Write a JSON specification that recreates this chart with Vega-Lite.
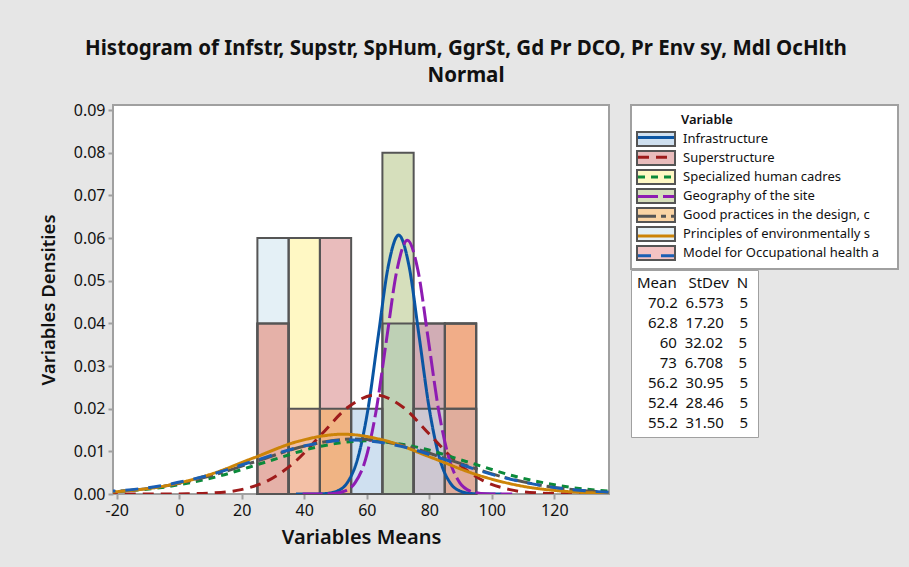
{
  "$schema": "https://vega.github.io/schema/vega-lite/v6.json",
  "width": 496,
  "height": 389,
  "autosize": {"type": "none"},
  "padding": {"left": 113, "top": 105, "right": 300, "bottom": 73},
  "background": "#e6e6e6",
  "title": {
    "text": ["Histogram of Infstr, Supstr, SpHum, GgrSt, Gd Pr DCO, Pr Env sy, Mdl OcHlth", "Normal"],
    "anchor": "middle", "dx": 105, "font": "Noto Sans", "fontSize": 20.5, "fontWeight": "bold",
    "color": "#111111", "lineHeight": 27, "offset": 16
  },
  "config": {
    "view": {"stroke": "#a0a0a0", "strokeWidth": 2, "fill": "white"},
    "font": "Noto Sans",
    "axis": {
      "domain": false, "grid": false, "tickColor": "#a0a0a0", "tickWidth": 2, "tickSize": 5,
      "labelFont": "Noto Sans", "labelFontSize": 16, "labelColor": "#111111",
      "titleFont": "Noto Sans", "titleFontWeight": 600, "titleColor": "#111111"
    }
  },
  "datasets": {
    "bars": [
      {"v": "Infrastructure", "b0": 55, "b1": 65, "dens": 0.02},
      {"v": "Infrastructure", "b0": 65, "b1": 75, "dens": 0.04},
      {"v": "Infrastructure", "b0": 75, "b1": 85, "dens": 0.04},
      {"v": "Superstructure", "b0": 45, "b1": 55, "dens": 0.06},
      {"v": "Superstructure", "b0": 75, "b1": 85, "dens": 0.04},
      {"v": "Specialized human cadres", "b0": 35, "b1": 45, "dens": 0.06},
      {"v": "Specialized human cadres", "b0": 85, "b1": 95, "dens": 0.04},
      {"v": "Geography of the site", "b0": 65, "b1": 75, "dens": 0.08},
      {"v": "Geography of the site", "b0": 85, "b1": 95, "dens": 0.02},
      {"v": "Good practices in the design, c", "b0": 25, "b1": 35, "dens": 0.04},
      {"v": "Good practices in the design, c", "b0": 45, "b1": 55, "dens": 0.02},
      {"v": "Good practices in the design, c", "b0": 85, "b1": 95, "dens": 0.04},
      {"v": "Principles of environmentally s", "b0": 25, "b1": 35, "dens": 0.06},
      {"v": "Principles of environmentally s", "b0": 75, "b1": 85, "dens": 0.02},
      {"v": "Principles of environmentally s", "b0": 85, "b1": 95, "dens": 0.02},
      {"v": "Model for Occupational health a", "b0": 25, "b1": 35, "dens": 0.04},
      {"v": "Model for Occupational health a", "b0": 35, "b1": 45, "dens": 0.02},
      {"v": "Model for Occupational health a", "b0": 85, "b1": 95, "dens": 0.04}
    ],
    "curves": [
      {"v": "Infrastructure", "x": 37.335, "d": 0.0000002},
      {"v": "Infrastructure", "x": 43.908, "d": 0.0000204},
      {"v": "Infrastructure", "x": 47.195, "d": 0.000133},
      {"v": "Infrastructure", "x": 50.481, "d": 0.000674},
      {"v": "Infrastructure", "x": 53.768, "d": 0.002667},
      {"v": "Infrastructure", "x": 57.054, "d": 0.008214},
      {"v": "Infrastructure", "x": 60.341, "d": 0.019705},
      {"v": "Infrastructure", "x": 63.627, "d": 0.036813},
      {"v": "Infrastructure", "x": 66.914, "d": 0.053563},
      {"v": "Infrastructure", "x": 70.2, "d": 0.060694},
      {"v": "Infrastructure", "x": 73.487, "d": 0.053563},
      {"v": "Infrastructure", "x": 76.773, "d": 0.036813},
      {"v": "Infrastructure", "x": 80.06, "d": 0.019705},
      {"v": "Infrastructure", "x": 83.346, "d": 0.008214},
      {"v": "Infrastructure", "x": 86.633, "d": 0.002667},
      {"v": "Infrastructure", "x": 89.919, "d": 0.000674},
      {"v": "Infrastructure", "x": 93.206, "d": 0.000133},
      {"v": "Infrastructure", "x": 96.492, "d": 0.0000204},
      {"v": "Infrastructure", "x": 103.065, "d": 0.0000002},
      {"v": "Superstructure", "x": -23.2, "d": 0.0000001},
      {"v": "Superstructure", "x": -6.0, "d": 0.0000078},
      {"v": "Superstructure", "x": 2.6, "d": 0.0000508},
      {"v": "Superstructure", "x": 11.2, "d": 0.000258},
      {"v": "Superstructure", "x": 19.8, "d": 0.001019},
      {"v": "Superstructure", "x": 28.4, "d": 0.003139},
      {"v": "Superstructure", "x": 37.0, "d": 0.00753},
      {"v": "Superstructure", "x": 45.6, "d": 0.014068},
      {"v": "Superstructure", "x": 54.2, "d": 0.020469},
      {"v": "Superstructure", "x": 62.8, "d": 0.023194},
      {"v": "Superstructure", "x": 71.4, "d": 0.020469},
      {"v": "Superstructure", "x": 80.0, "d": 0.014068},
      {"v": "Superstructure", "x": 88.6, "d": 0.00753},
      {"v": "Superstructure", "x": 97.2, "d": 0.003139},
      {"v": "Superstructure", "x": 105.8, "d": 0.001019},
      {"v": "Superstructure", "x": 114.4, "d": 0.000258},
      {"v": "Superstructure", "x": 123.0, "d": 0.0000508},
      {"v": "Superstructure", "x": 131.6, "d": 0.0000078},
      {"v": "Superstructure", "x": 148.8, "d": 0.0000001},
      {"v": "Specialized human cadres", "x": -36.06, "d": 0.000138},
      {"v": "Specialized human cadres", "x": -20.05, "d": 0.000547},
      {"v": "Specialized human cadres", "x": -4.04, "d": 0.001686},
      {"v": "Specialized human cadres", "x": 11.97, "d": 0.004045},
      {"v": "Specialized human cadres", "x": 27.98, "d": 0.007557},
      {"v": "Specialized human cadres", "x": 43.99, "d": 0.010995},
      {"v": "Specialized human cadres", "x": 60.0, "d": 0.012459},
      {"v": "Specialized human cadres", "x": 76.01, "d": 0.010995},
      {"v": "Specialized human cadres", "x": 92.02, "d": 0.007557},
      {"v": "Specialized human cadres", "x": 108.03, "d": 0.004045},
      {"v": "Specialized human cadres", "x": 124.04, "d": 0.001686},
      {"v": "Specialized human cadres", "x": 140.05, "d": 0.000547},
      {"v": "Specialized human cadres", "x": 156.06, "d": 0.000138},
      {"v": "Geography of the site", "x": 39.46, "d": 0.0000002},
      {"v": "Geography of the site", "x": 46.168, "d": 0.00002},
      {"v": "Geography of the site", "x": 49.522, "d": 0.00013},
      {"v": "Geography of the site", "x": 52.876, "d": 0.000661},
      {"v": "Geography of the site", "x": 56.23, "d": 0.002613},
      {"v": "Geography of the site", "x": 59.584, "d": 0.008049},
      {"v": "Geography of the site", "x": 62.938, "d": 0.019308},
      {"v": "Geography of the site", "x": 66.292, "d": 0.036072},
      {"v": "Geography of the site", "x": 69.646, "d": 0.052484},
      {"v": "Geography of the site", "x": 73.0, "d": 0.059473},
      {"v": "Geography of the site", "x": 76.354, "d": 0.052484},
      {"v": "Geography of the site", "x": 79.708, "d": 0.036072},
      {"v": "Geography of the site", "x": 83.062, "d": 0.019308},
      {"v": "Geography of the site", "x": 86.416, "d": 0.008049},
      {"v": "Geography of the site", "x": 89.77, "d": 0.002613},
      {"v": "Geography of the site", "x": 93.124, "d": 0.000661},
      {"v": "Geography of the site", "x": 96.478, "d": 0.00013},
      {"v": "Geography of the site", "x": 99.832, "d": 0.00002},
      {"v": "Geography of the site", "x": 106.54, "d": 0.0000002},
      {"v": "Good practices in the design, c", "x": -36.65, "d": 0.000143},
      {"v": "Good practices in the design, c", "x": -21.175, "d": 0.000566},
      {"v": "Good practices in the design, c", "x": -5.7, "d": 0.001744},
      {"v": "Good practices in the design, c", "x": 9.775, "d": 0.004185},
      {"v": "Good practices in the design, c", "x": 25.25, "d": 0.007818},
      {"v": "Good practices in the design, c", "x": 40.725, "d": 0.011375},
      {"v": "Good practices in the design, c", "x": 56.2, "d": 0.01289},
      {"v": "Good practices in the design, c", "x": 71.675, "d": 0.011375},
      {"v": "Good practices in the design, c", "x": 87.15, "d": 0.007818},
      {"v": "Good practices in the design, c", "x": 102.625, "d": 0.004185},
      {"v": "Good practices in the design, c", "x": 118.1, "d": 0.001744},
      {"v": "Good practices in the design, c", "x": 133.575, "d": 0.000566},
      {"v": "Good practices in the design, c", "x": 149.05, "d": 0.000143},
      {"v": "Principles of environmentally s", "x": -33.06, "d": 0.000156},
      {"v": "Principles of environmentally s", "x": -18.75, "d": 0.000616},
      {"v": "Principles of environmentally s", "x": -4.52, "d": 0.001897},
      {"v": "Principles of environmentally s", "x": 9.71, "d": 0.004551},
      {"v": "Principles of environmentally s", "x": 23.94, "d": 0.008502},
      {"v": "Principles of environmentally s", "x": 38.17, "d": 0.012371},
      {"v": "Principles of environmentally s", "x": 52.4, "d": 0.014018},
      {"v": "Principles of environmentally s", "x": 66.63, "d": 0.012371},
      {"v": "Principles of environmentally s", "x": 80.86, "d": 0.008502},
      {"v": "Principles of environmentally s", "x": 95.09, "d": 0.004551},
      {"v": "Principles of environmentally s", "x": 109.32, "d": 0.001897},
      {"v": "Principles of environmentally s", "x": 123.55, "d": 0.000616},
      {"v": "Principles of environmentally s", "x": 137.78, "d": 0.000156},
      {"v": "Principles of environmentally s", "x": 152.01, "d": 0.0000307},
      {"v": "Model for Occupational health a", "x": -39.3, "d": 0.000141},
      {"v": "Model for Occupational health a", "x": -23.55, "d": 0.000556},
      {"v": "Model for Occupational health a", "x": -7.8, "d": 0.001714},
      {"v": "Model for Occupational health a", "x": 7.95, "d": 0.004112},
      {"v": "Model for Occupational health a", "x": 23.7, "d": 0.007682},
      {"v": "Model for Occupational health a", "x": 39.45, "d": 0.011177},
      {"v": "Model for Occupational health a", "x": 55.2, "d": 0.012665},
      {"v": "Model for Occupational health a", "x": 70.95, "d": 0.011177},
      {"v": "Model for Occupational health a", "x": 86.7, "d": 0.007682},
      {"v": "Model for Occupational health a", "x": 102.45, "d": 0.004112},
      {"v": "Model for Occupational health a", "x": 118.2, "d": 0.001714},
      {"v": "Model for Occupational health a", "x": 133.95, "d": 0.000556},
      {"v": "Model for Occupational health a", "x": 149.7, "d": 0.000141}
    ],
    "stats": [
      {"label": "70.2\u00a0\u00a06.573\u00a0\u00a0\u00a0\u00a05", "mean": 70.2},
      {"label": "62.8\u00a0\u00a017.20\u00a0\u00a0\u00a0\u00a05", "mean": 62.8},
      {"label": "\u200b\u00a0\u00a0\u00a060\u00a0\u00a032.02\u00a0\u00a0\u00a0\u00a05", "mean": 60},
      {"label": "\u200b\u00a0\u00a0\u00a073\u00a0\u00a06.708\u00a0\u00a0\u00a0\u00a05", "mean": 73},
      {"label": "56.2\u00a0\u00a030.95\u00a0\u00a0\u00a0\u00a05", "mean": 56.2},
      {"label": "52.4\u00a0\u00a028.46\u00a0\u00a0\u00a0\u00a05", "mean": 52.4},
      {"label": "55.2\u00a0\u00a031.50\u00a0\u00a0\u00a0\u00a05", "mean": 55.2}
    ]
  },
  "layer": [
    {
      "data": {"name": "bars"},
      "mark": {"type": "rect", "fillOpacity": 0.5, "strokeWidth": 0},
      "encoding": {
        "x": {"field": "b0", "type": "quantitative",
          "scale": {"domain": [-21.2, 137.5], "nice": false, "zero": false},
          "axis": {"values": [-20, 0, 20, 40, 60, 80, 100, 120], "title": "Variables Means", "titleFontSize": 20, "labelExpr": "datum.value", "titlePadding": 9, "labelPadding": 3}},
        "x2": {"field": "b1"},
        "y": {"field": "dens", "type": "quantitative",
          "scale": {"domain": [0, 0.0912], "nice": false},
          "axis": {"values": [0, 0.01, 0.02, 0.03, 0.04, 0.05, 0.06, 0.07, 0.08, 0.09], "format": ".2f", "title": "Variables Densities", "titleFontSize": 18.5, "titlePadding": 15, "labelPadding": 3}},
        "y2": {"datum": 0},
        "fill": {"field": "v", "type": "nominal", "sort": null,
          "scale": {"range": ["#9fc1e1", "#d37979", "#fff189", "#adbf79", "#f7ab4b", "#c9e1ed", "#e78787"]},
          "legend": {
            "title": "Variable", "orient": "none", "legendX": 518, "legendY": 0,
            "symbolType": "M-1,-1H4.4286V1H-1Z", "symbolSize": 196,
            "labelFont": "Noto Sans", "labelFontSize": 13, "labelColor": "#111111", "labelOffset": 31, "labelLimit": 400,
            "labelExpr": "datum.label + '\u00a0\u00a0\u00a0\u00a0\u200b'",
            "titleFont": "Noto Sans", "titleFontSize": 13, "titleFontWeight": 600, "titleColor": "#111111", "titlePadding": 8,
            "rowPadding": -3, "padding": 5, "fillColor": "white", "strokeColor": "#a0a0a0",
            "encode": {
              "symbols": {"update": {"fillOpacity": {"value": 0.5}, "stroke": {"value": "#555555"}, "strokeWidth": {"value": 2}}},
              "title": {"update": {"dx": {"value": 45}, "dy": {"value": 4}}},
              "legend": {"update": {"strokeWidth": {"value": 2}}}
            }
          }}
      }
    },
    {
      "data": {"name": "bars"},
      "mark": {"type": "rect", "fillOpacity": 0, "stroke": "#555555", "strokeWidth": 2},
      "encoding": {
        "x": {"field": "b0", "type": "quantitative", "scale": {"domain": [-21.2, 137.5], "nice": false, "zero": false}},
        "x2": {"field": "b1"},
        "y": {"field": "dens", "type": "quantitative", "scale": {"domain": [0, 0.0912], "nice": false}},
        "y2": {"datum": 0}
      }
    },
    {
      "data": {"name": "curves"},
      "mark": {"type": "line", "interpolate": "monotone", "strokeWidth": 3, "clip": true},
      "encoding": {
        "x": {"field": "x", "type": "quantitative", "scale": {"domain": [-21.2, 137.5], "nice": false, "zero": false}},
        "y": {"field": "d", "type": "quantitative", "scale": {"domain": [0, 0.0912], "nice": false}},
        "stroke": {"field": "v", "type": "nominal", "sort": null,
          "scale": {"range": ["#0a55a3", "#9e1b1b", "#0b8a3a", "#8e1cb2", "#555555", "#cc8408", "#1a5fb4"]},
          "legend": {"title": null, "orient": "none", "legendX": 518, "legendY": 19.5, "symbolType": "M-0.923,0H4.615", "symbolSize": 169,
            "symbolStrokeWidth": 3, "labelFontSize": 13, "labelOpacity": 0, "labelExpr": "''", "labelOffset": 31, "rowPadding": 4.7, "padding": 5, "zindex": 1}},
        "strokeDash": {"field": "v", "type": "nominal", "sort": null,
          "scale": {"range": [[1, 0], [11, 7], [7, 6], [20, 5], [18, 5, 5, 5], [1, 0], [13, 10]]},
          "legend": {"title": null, "orient": "none", "legendX": 518, "legendY": 19.5, "symbolType": "M-0.923,0H4.615", "symbolSize": 169,
            "symbolStrokeWidth": 3, "labelFontSize": 13, "labelOpacity": 0, "labelExpr": "''", "labelOffset": 31, "rowPadding": 4.7, "padding": 5, "zindex": 1}}
      }
    },
    {
      "data": {"name": "stats"},
      "mark": {"type": "point", "opacity": 0},
      "encoding": {
        "x": {"field": "mean", "type": "quantitative", "scale": {"domain": [-21.2, 137.5], "nice": false, "zero": false}},
        "y": {"datum": 0, "type": "quantitative", "scale": {"domain": [0, 0.0912], "nice": false}},
        "shape": {"field": "label", "type": "nominal", "sort": null,
          "legend": {"title": "Mean\u00a0\u00a0\u00a0StDev\u00a0\u00a0N", "orient": "none", "legendX": 518, "legendY": 165,
            "symbolSize": 0, "symbolOpacity": 0, "symbolStrokeWidth": 0, "labelOffset": -4, "labelLimit": 400,
            "labelExpr": "datum.label + '\u00a0\u200b'",
            "labelFont": "Noto Sans", "labelFontSize": 15, "labelColor": "#111111",
            "titleFont": "Noto Sans", "titleFontSize": 15, "titleFontWeight": "normal", "titleColor": "#111111",
            "padding": 6, "rowPadding": 4.0, "titlePadding": 4, "fillColor": "white", "strokeColor": "#a0a0a0",
            "encode": {"legend": {"update": {"strokeWidth": {"value": 2}}}}}}
      }
    }
  ]
}
